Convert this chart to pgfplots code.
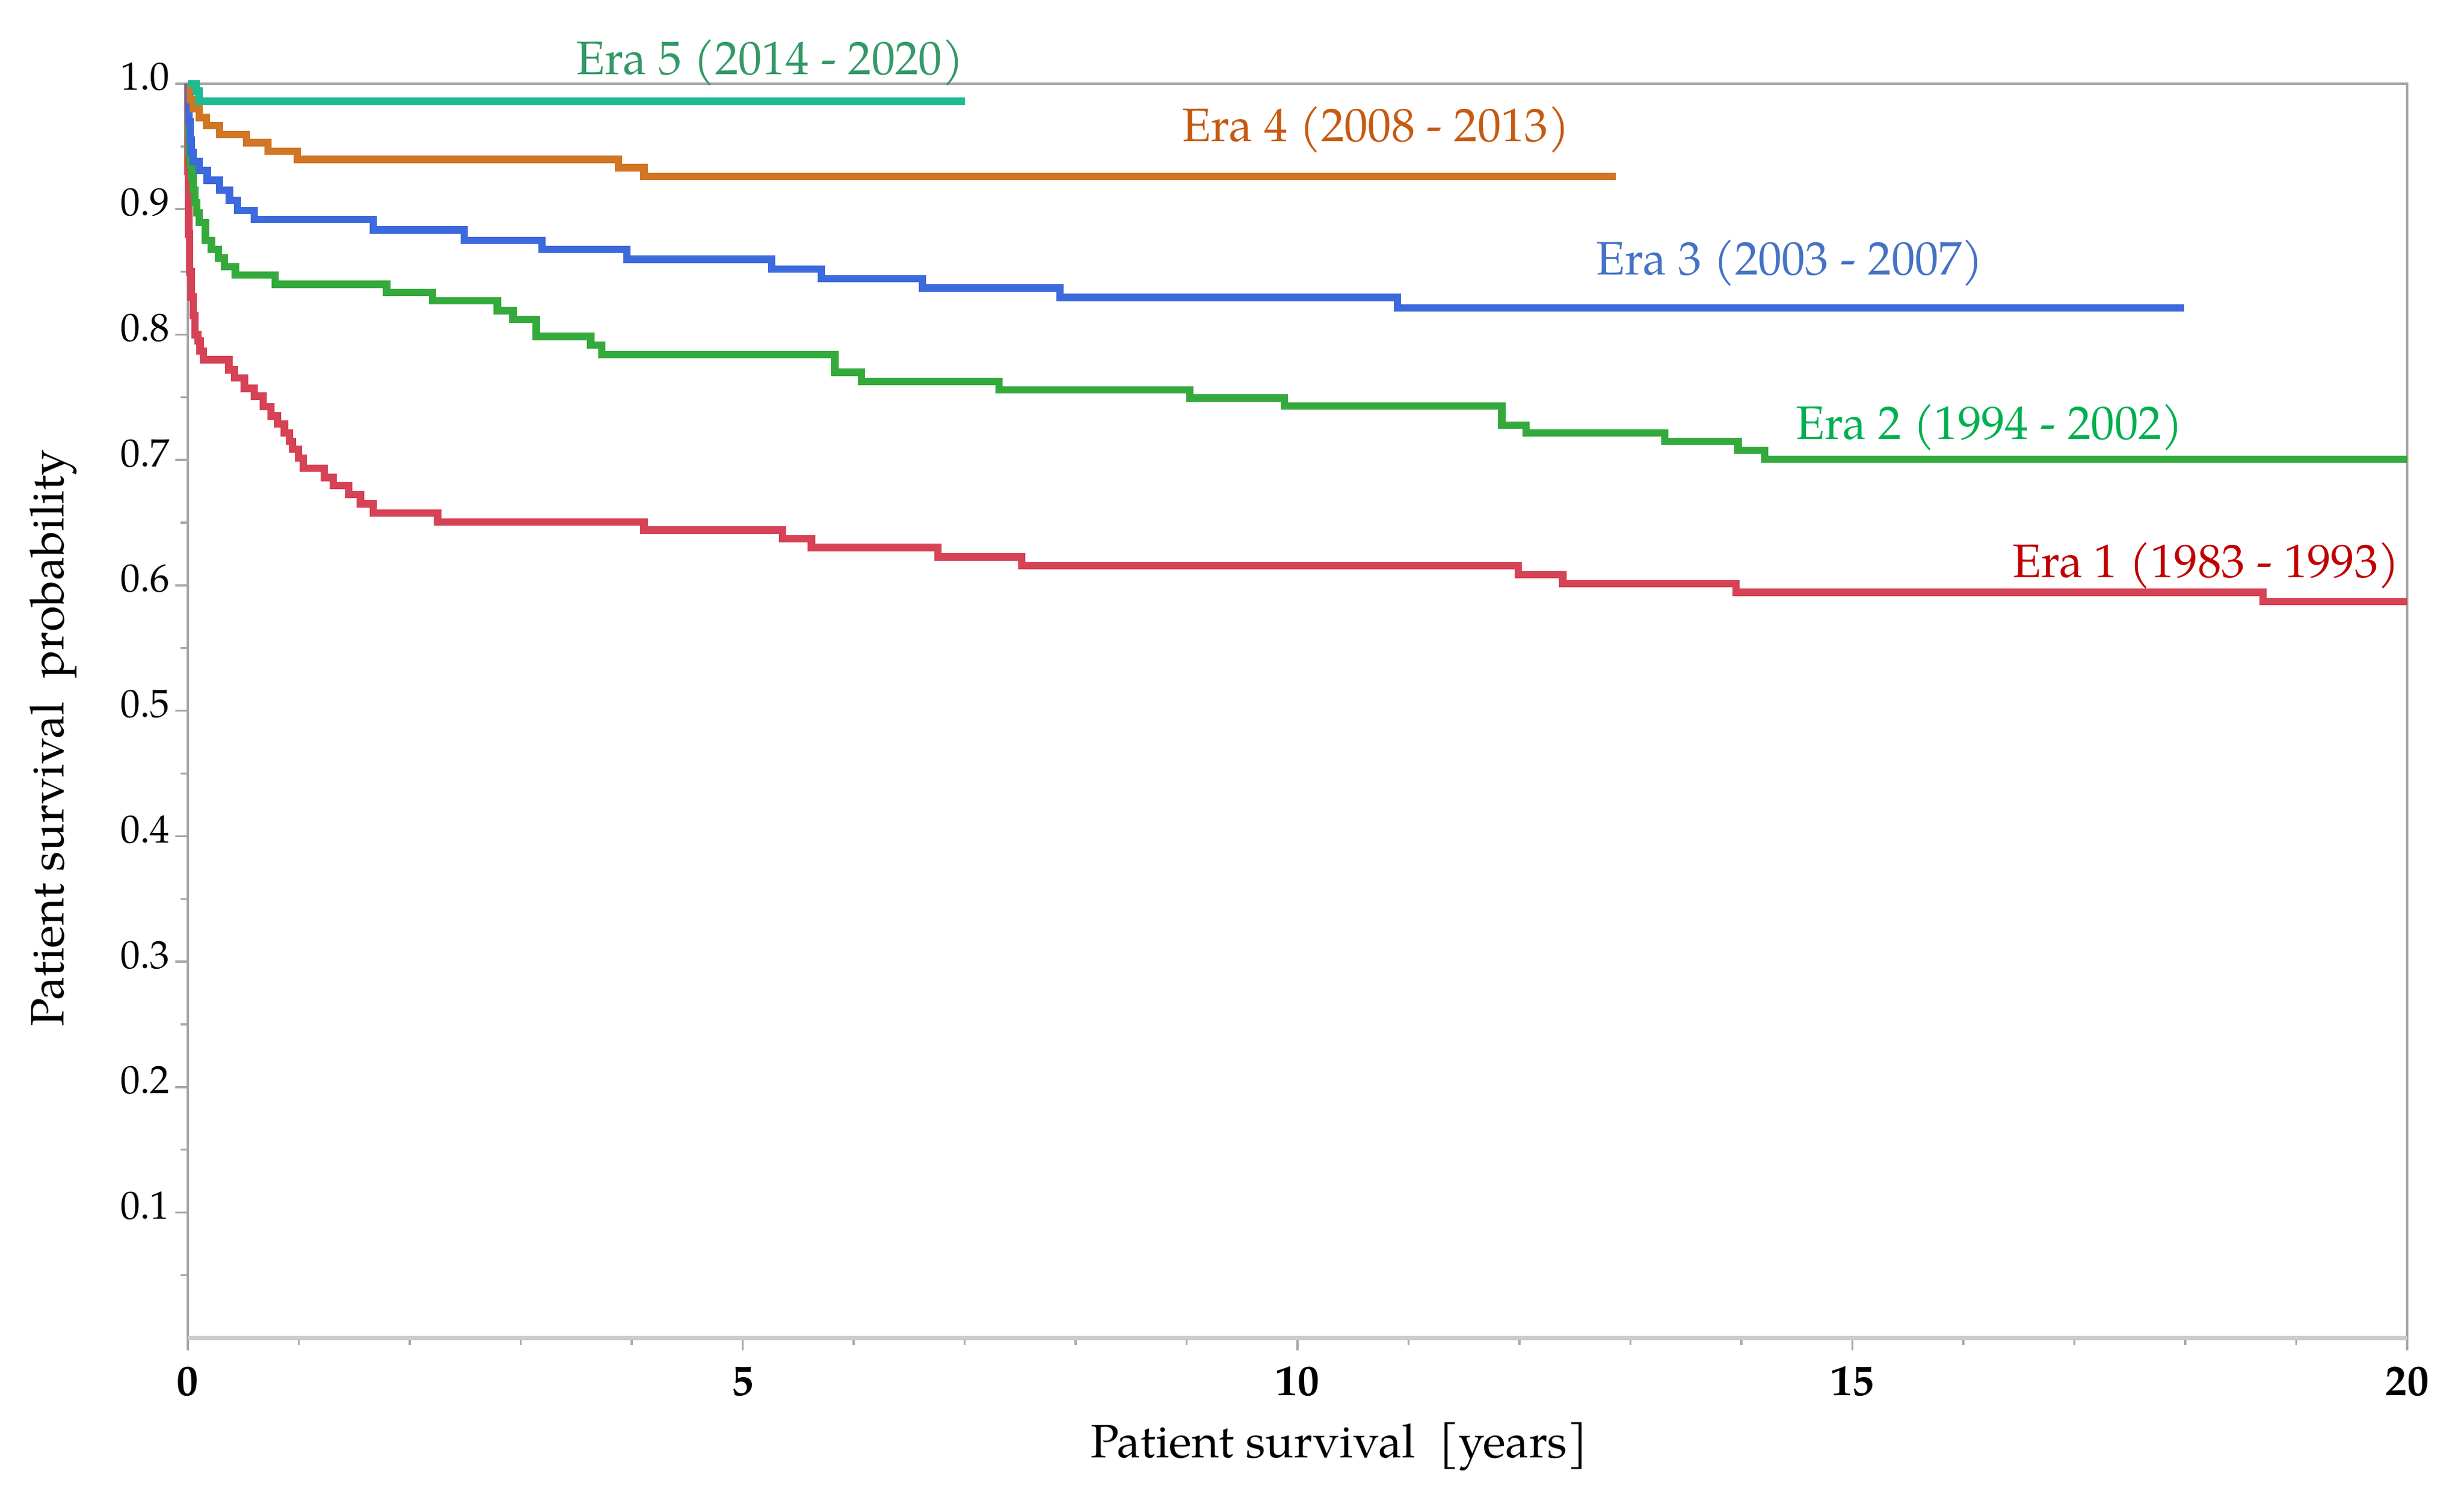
\documentclass[border=0pt]{standalone}
\usepackage{fontspec}
\setmainfont{TeX Gyre Pagella}
\usepackage{pgfplots}
\pgfplotsset{compat=1.18}
\definecolor{lred}{HTML}{D64256}
\definecolor{lgreen}{HTML}{34AA3C}
\definecolor{lblue}{HTML}{3C69DC}
\definecolor{lorange}{HTML}{D07624}
\definecolor{lteal}{HTML}{1FBA91}
\definecolor{tred}{HTML}{C00000}
\definecolor{tgreen}{HTML}{00B050}
\definecolor{tblue}{HTML}{4472C4}
\definecolor{torange}{HTML}{C55A11}
\definecolor{tteal}{HTML}{339966}
\definecolor{axgray}{HTML}{A8A8A8}
\definecolor{axlight}{HTML}{CCCCCC}
\begin{document}
\begin{tikzpicture}
\begin{axis}[
  scale only axis,
  width=540.4pt, height=305.5pt,
  xmin=0, xmax=20, ymin=0, ymax=1,
  clip=false,
  axis line style={axgray, line width=0.5pt},
  xtick={0,5,10,15,20},
  minor xtick={1,2,3,4,6,7,8,9,11,12,13,14,16,17,18,19},
  ytick={0.1,0.2,0.3,0.4,0.5,0.6,0.7,0.8,0.9,1.0},
  minor ytick={0.05,0.15,0.25,0.35,0.45,0.55,0.65,0.75,0.85,0.95},
  tick align=outside,
  tick style={axgray, line width=0.5pt},
  major tick length=3pt,
  minor tick length=1.7pt,
  xtick pos=bottom, ytick pos=left,
  /pgf/number format/assume math mode=true,
  yticklabel={\pgfmathprintnumber[fixed,fixed zerofill,precision=1]{\tick}},
  yticklabel style={anchor=base east, inner sep=0pt, xshift=-1.2pt, yshift=-1.6pt, font=\fontsize{9.6}{12}\selectfont},
  xticklabel style={anchor=base, inner sep=0pt, yshift=-11pt, font=\fontsize{10.5}{12}\selectfont\bfseries},
  every axis plot/.append style={line width=1.8pt, const plot},
]
\coordinate (SW) at (rel axis cs:0,0);
\coordinate (NE) at (rel axis cs:1,1);
\coordinate (XL) at (rel axis cs:0.5187,0);
\coordinate (YL) at (rel axis cs:0,0.4783);
\draw[axlight, line width=1pt] (rel axis cs:0,0) -- (rel axis cs:1,0);
% Era 1
\addplot[lred] coordinates {
(0,1.0) (0.003,0.93) (0.008,0.88) (0.015,0.85) (0.03,0.83) (0.05,0.815) (0.065,0.80) (0.09,0.795) (0.11,0.787) (0.14,0.780)
(0.37,0.7718) (0.42,0.7654) (0.51,0.7571) (0.60,0.7508) (0.68,0.7426) (0.75,0.7352) (0.81,0.7288) (0.87,0.7216) (0.915,0.715)
(0.945,0.7088) (0.998,0.7015) (1.04,0.6933) (1.23,0.686) (1.31,0.6796) (1.45,0.6723) (1.555,0.665) (1.67,0.6577) (2.25,0.6505)
(4.11,0.644) (5.36,0.637) (5.62,0.6303) (6.76,0.6226) (7.515,0.6156) (11.99,0.6084) (12.39,0.6014) (13.95,0.5944) (18.70,0.5871) (20,0.5871)
};
% Era 2
\addplot[lgreen] coordinates {
(0,1.0) (0.005,0.96) (0.01,0.945) (0.02,0.935) (0.035,0.925) (0.05,0.915) (0.065,0.905) (0.08,0.897) (0.104,0.8895)
(0.158,0.875) (0.212,0.868) (0.275,0.861) (0.329,0.854) (0.428,0.8474) (0.787,0.840) (1.793,0.8335) (2.206,0.827)
(2.79,0.819) (2.93,0.812) (3.14,0.7985) (3.63,0.7916) (3.73,0.7839) (5.83,0.770) (6.07,0.7626) (7.31,0.7559)
(9.03,0.7495) (9.88,0.7429) (11.84,0.7276) (12.06,0.7215) (13.31,0.7148) (13.97,0.7078) (14.21,0.7005) (20,0.7005)
};
% Era 3
\addplot[lblue] coordinates {
(0,1.0) (0.005,0.98) (0.01,0.97) (0.02,0.955) (0.03,0.945) (0.05,0.938) (0.104,0.931) (0.176,0.923) (0.284,0.915)
(0.374,0.907) (0.446,0.899) (0.598,0.8916) (1.67,0.8834) (2.49,0.8751) (3.19,0.868) (3.956,0.860) (5.26,0.8523)
(5.71,0.8447) (6.62,0.8371) (7.86,0.8295) (10.90,0.8213) (17.99,0.8213)
};
% Era 4
\addplot[lorange] coordinates {
(0,1.0) (0.02,0.987) (0.05,0.98) (0.104,0.973) (0.167,0.9666) (0.284,0.9595) (0.527,0.953) (0.724,0.946)
(0.985,0.9396) (3.88,0.933) (4.11,0.926) (12.87,0.926)
};
% Era 5
\addplot[lteal] coordinates {
(0,1.0) (0.075,0.994) (0.10,0.986) (7.0,0.986)
};
\begin{scope}[every node/.style={anchor=base east, inner sep=0pt, font=\fontsize{11.45}{14}\selectfont}]
\node[text=tred] at (axis cs:19.94,0.6062) {Era 1 (1983 - 1993)};
\node[text=tgreen] at (axis cs:17.99,0.7166) {Era 2 (1994 - 2002)};
\node[text=tblue] at (axis cs:16.19,0.8478) {Era 3 (2003 - 2007)};
\node[text=torange] at (axis cs:12.46,0.954) {Era 4 (2008 - 2013)};
\node[text=tteal] at (axis cs:7.0,1.0072) {Era 5 (2014 - 2020)};
\end{scope}
\end{axis}
\node[anchor=base, inner sep=0pt, font=\fontsize{11.4}{14}\selectfont] at ([yshift=-29.2pt]XL) {Patient survival\ \ [years]};
\node[anchor=base, rotate=90, inner sep=0pt, font=\fontsize{11.4}{14}\selectfont] at ([xshift=-30.2pt]YL) {Patient survival\ \ probability};
\pgfresetboundingbox
\path[use as bounding box] ([shift={(-45.74pt,-38.17pt)}]SW) rectangle ([shift={(13.84pt,20.39pt)}]NE);
\end{tikzpicture}
\end{document}
